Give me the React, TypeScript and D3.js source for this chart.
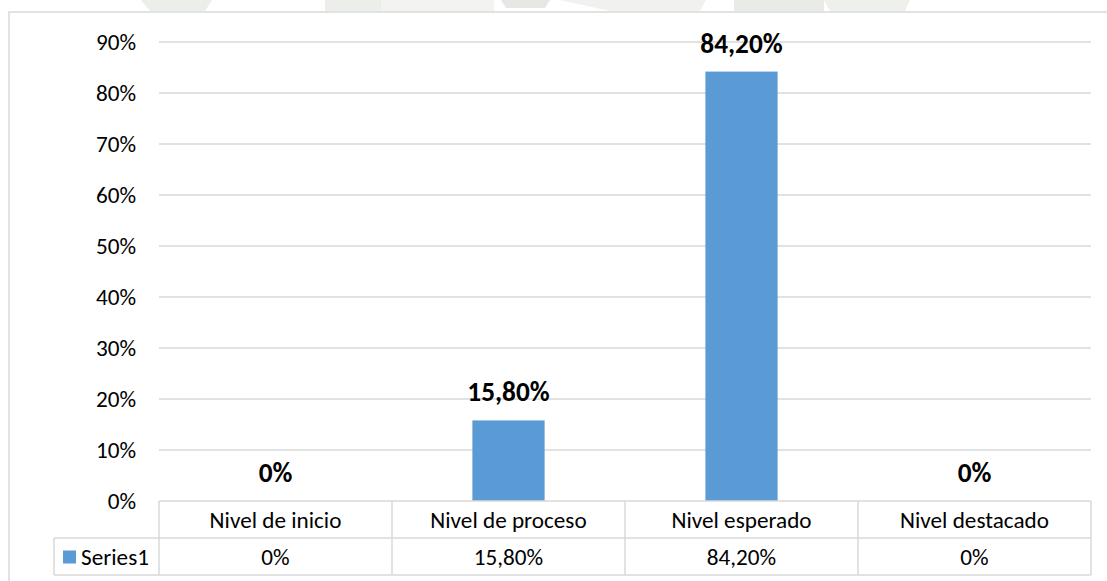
import React from "react";
import * as d3 from "d3";

const categories = ["Nivel de inicio", "Nivel de proceso", "Nivel esperado", "Nivel destacado"];
const values = [0, 15.8, 84.2, 0];
const valueLabels = ["0%", "15,80%", "84,20%", "0%"];
const yTicks = [0, 10, 20, 30, 40, 50, 60, 70, 80, 90];
const seriesName = "Series1";

const W = 1107;
const H = 581;
const FONT = "Carlito, Lato, 'Open Sans', sans-serif";
const FS = 23.2;
const FSB = 27.3;

export default function App() {
  const plotLeft = 159;
  const plotRight = 1091;
  const plotTop = 42;
  const plotBottom = 501;
  const rowH = 37;
  const legendLeft = 54;

  const x = d3.scaleBand<string>().domain(categories).range([plotLeft, plotRight]).padding(0);
  const y = d3.scaleLinear().domain([0, 90]).range([plotBottom, plotTop]);
  const barW = x.bandwidth() * 0.31;
  const grid = "#d9d9d9";

  return (
    <svg
      width={W}
      height={H}
      style={{ position: "absolute", left: 0, top: 0, background: "#fff" }}
      fontFamily={FONT}
    >
      {/* faint watermark remnants above chart */}
      <g fill="#eceee9">
        <path d="M141,0 L212,0 L205,11 L150,11 Z" />
        <rect x={325} y={0} width={56} height={11} />
        <rect x={381} y={0} width={113} height={11} fill="#f3f4f1" />
        <path d="M501,0 L550,0 L545,8 L506,8 Z" fill="#e6e8e3" />
        <path d="M560,0 L706,0 L700,11 L610,11 Z" fill="#f1f2ef" />
        <rect x={734} y={0} width={90} height={11} fill="#e9ebe6" />
        <path d="M824,0 L910,0 L905,11 L830,11 Z" fill="#eef0eb" />
      </g>

      {/* chart area border */}
      <rect x={9} y={12} width={W + 10} height={H + 10} fill="#fff" stroke={grid} strokeWidth={1.5} />

      {/* gridlines */}
      {yTicks.filter((t) => t > 0).map((t) => (
        <line key={t} x1={plotLeft} x2={plotRight} y1={y(t)} y2={y(t)} stroke={grid} strokeWidth={1.5} />
      ))}

      {/* y tick labels */}
      {yTicks.map((t) => (
        <text key={t} x={136} y={y(t)} dy="0.36em" textAnchor="end" fontSize={FS} fill="#000">
          {t}%
        </text>
      ))}

      {/* bars */}
      {categories.map((c, i) => (
        <rect
          key={c}
          x={(x(c) as number) + x.bandwidth() / 2 - barW / 2}
          y={y(values[i])}
          width={barW}
          height={plotBottom - y(values[i])}
          fill="#5b9bd5"
        />
      ))}

      {/* data labels */}
      {categories.map((c, i) => (
        <text
          key={c}
          x={(x(c) as number) + x.bandwidth() / 2}
          y={y(values[i]) - 19}
          textAnchor="middle"
          fontSize={FSB}
          fontWeight="bold"
          fill="#000"
        >
          {valueLabels[i]}
        </text>
      ))}

      {/* data table */}
      <g stroke={grid} strokeWidth={1.5} fill="none">
        <line x1={plotLeft} x2={plotRight} y1={plotBottom} y2={plotBottom} />
        <line x1={legendLeft} x2={plotRight} y1={plotBottom + rowH} y2={plotBottom + rowH} />
        <line x1={legendLeft} x2={plotRight} y1={plotBottom + 2 * rowH} y2={plotBottom + 2 * rowH} />
        <line x1={legendLeft} x2={legendLeft} y1={plotBottom + rowH} y2={plotBottom + 2 * rowH} />
        {categories.map((c) => (
          <line key={c} x1={x(c) as number} x2={x(c) as number} y1={plotBottom} y2={plotBottom + 2 * rowH} />
        ))}
        <line x1={plotRight} x2={plotRight} y1={plotBottom} y2={plotBottom + 2 * rowH} />
      </g>

      {categories.map((c, i) => (
        <g key={c}>
          <text
            x={(x(c) as number) + x.bandwidth() / 2}
            y={plotBottom + rowH / 2}
            dy="0.36em"
            textAnchor="middle"
            fontSize={FS}
            fill="#000"
          >
            {c}
          </text>
          <text
            x={(x(c) as number) + x.bandwidth() / 2}
            y={plotBottom + rowH * 1.5}
            dy="0.36em"
            textAnchor="middle"
            fontSize={FS}
            fill="#000"
          >
            {valueLabels[i]}
          </text>
        </g>
      ))}

      {/* legend key */}
      <rect x={63} y={550.5} width={13} height={13} fill="#5b9bd5" />
      <text x={81} y={plotBottom + rowH * 1.5} dy="0.36em" fontSize={FS} fill="#000">
        {seriesName}
      </text>
    </svg>
  );
}
